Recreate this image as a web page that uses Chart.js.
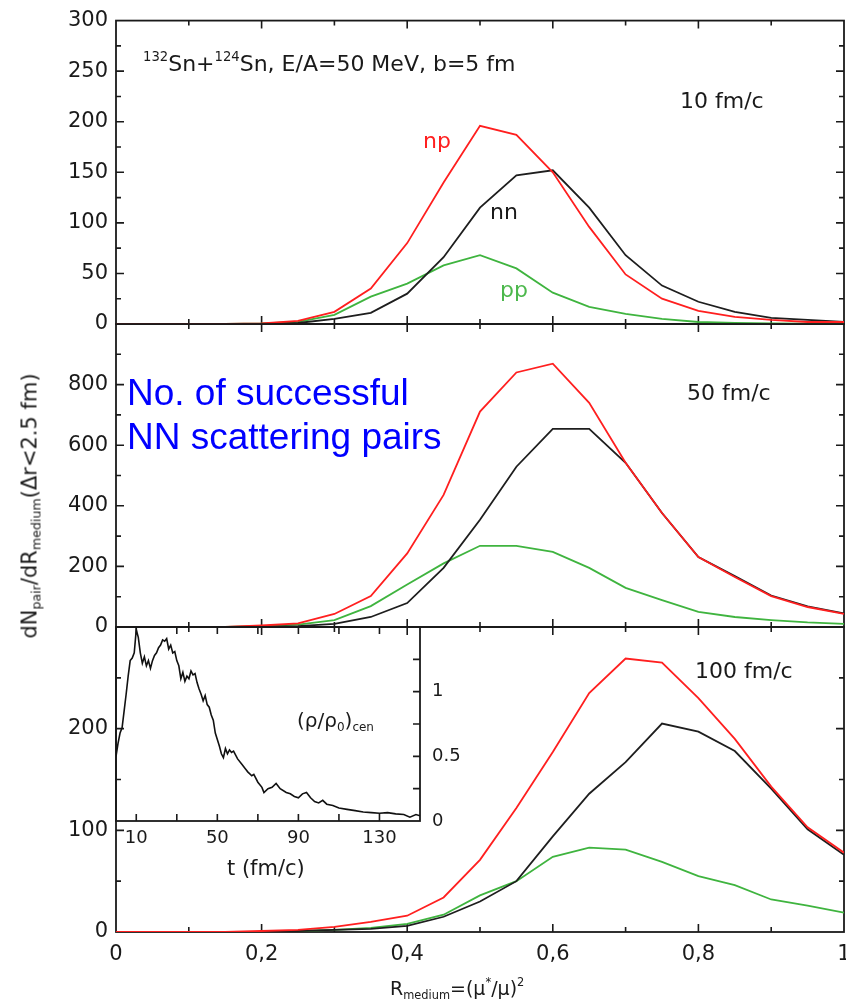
<!DOCTYPE html>
<html>
<head>
<meta charset="utf-8">
<script src="https://cdn.jsdelivr.net/npm/chart.js@4.4.0/dist/chart.umd.min.js"></script>
<style>
  html, body { margin: 0; padding: 0; background: #fff; overflow: hidden; }
  #wrap { position: relative; width: 846px; height: 999px; overflow: hidden; font-family: 'DejaVu Sans', sans-serif; color: #1a1a1a; }
  canvas { position: absolute; }
  .lbl { position: absolute; white-space: nowrap; line-height: 1; }
  .lbl sub, .lbl sup { font-size: 60%; line-height: 0; position: relative; vertical-align: baseline; }
  .lbl sup { top: -0.75em; }
  .lbl sub { top: 0.35em; }
</style>
</head>
<body>
<div id="wrap">
  <canvas id="c10" width="880" height="345" style="left:0;top:0"></canvas>
  <canvas id="c50" width="880" height="350" style="left:0;top:300px"></canvas>
  <canvas id="c100" width="880" height="399" style="left:0;top:600px"></canvas>
  <canvas id="cin" width="400" height="300" style="left:100px;top:600px"></canvas>
</div>
<script>
// R_medium grid shared by all three panels
const rValues = [0, 0.05, 0.1, 0.15, 0.2, 0.25, 0.3, 0.35, 0.4, 0.45, 0.5,
                 0.55, 0.6, 0.65, 0.7, 0.75, 0.8, 0.85, 0.9, 0.95, 1];

// 10 fm/c
const np10 = [0, 0, 0, 0, 0.5, 3, 12, 35, 80, 140, 196, 187, 150, 96, 49, 25, 13, 7, 4, 2, 2];
const nn10 = [0, 0, 0, 0, 0, 1, 5, 11, 30, 66, 115, 147, 152, 115, 68, 38, 22, 12, 6, 4, 2];
const pp10 = [0, 0, 0, 0, 0.5, 2, 9, 27, 40, 58, 68, 55, 31, 17, 10, 5, 2, 1, 0.5, 0.3, 0.2];

// 50 fm/c
const np50 = [0, 0, 0, 0, 5, 12, 43, 102, 243, 436, 711, 840, 869, 740, 542, 376, 231, 165, 102, 66, 43];
const nn50 = [0, 0, 0, 0, 1, 3, 10, 33, 79, 195, 354, 529, 654, 654, 542, 376, 231, 168, 104, 68, 45];
const pp50 = [0, 0, 0, 0, 3, 8, 23, 69, 140, 210, 268, 268, 248, 195, 129, 89, 50, 33, 23, 15, 10];

// 100 fm/c
const np100 = [0, 0, 0, 0, 1, 2, 5, 10, 16, 34, 71, 122, 177, 235, 269, 265, 230, 190, 143, 103, 78];
const nn100 = [0, 0, 0, 0, 0, 1, 2, 3, 6, 15, 30, 50, 94, 136, 167, 205, 197, 178, 141, 101, 76];
const pp100 = [0, 0, 0, 0, 0, 1, 2, 4, 8, 17, 36, 50, 74, 83, 81, 69, 55, 46, 32, 26, 19];

// tick labels
const xTicks = [0, 0.2, 0.4, 0.6, 0.8, 1];
const xTickLabels = ['0', '0,2', '0,4', '0,6', '0,8', '1'];
const yTicks10 = [0, 50, 100, 150, 200, 250, 300];
const yLabels10 = ['0', '50', '100', '150', '200', '250', '300'];
const yTicks50 = [0, 200, 400, 600, 800, 1000];
const yLabels50 = ['0', '200', '400', '600', '800', ''];
const yTicks100 = [0, 100, 200, 300];
const yLabels100 = ['0', '100', '200', ''];

// inset: central density vs time
const insetT = [0, 1, 2, 3, 4, 5, 6, 7, 8, 9, 10, 11, 12, 13, 14, 15, 16, 17, 18, 19,
  20, 21, 22, 23, 24, 25, 26, 27, 28, 29, 30, 31, 32, 33, 34, 35, 36, 37, 38, 39,
  40, 41, 42, 43, 44, 45, 46, 47, 48, 49, 50, 51, 52, 53, 54, 55, 56, 57, 58, 60,
  62, 64, 65, 67, 68, 70, 72, 73, 75, 77, 79, 81, 84, 86, 88, 90, 92, 94, 96, 98,
  100, 102, 104, 107, 110, 114, 118, 122, 126, 130, 134, 138, 142, 145, 148, 150];
const insetRho = [0.50, 0.60, 0.68, 0.72, 0.85, 0.98, 1.12, 1.24, 1.26, 1.30,
  1.48, 1.42, 1.30, 1.22, 1.27, 1.20, 1.24, 1.18, 1.24, 1.28,
  1.30, 1.34, 1.36, 1.40, 1.39, 1.41, 1.33, 1.36, 1.30, 1.31,
  1.24, 1.20, 1.10, 1.15, 1.08, 1.12, 1.10, 1.16, 1.13, 1.14,
  1.07, 1.02, 0.98, 0.93, 0.97, 0.90, 0.88, 0.82, 0.78, 0.68,
  0.63, 0.58, 0.52, 0.49, 0.56, 0.52, 0.55, 0.53, 0.54, 0.48,
  0.44, 0.40, 0.38, 0.35, 0.36, 0.30, 0.26, 0.22, 0.25, 0.26,
  0.29, 0.25, 0.22, 0.21, 0.19, 0.18, 0.21, 0.22, 0.18, 0.15,
  0.14, 0.16, 0.13, 0.12, 0.10, 0.09, 0.08, 0.07, 0.065, 0.06,
  0.065, 0.055, 0.05, 0.03, 0.05, 0.04];
const insetXTicks = [10, 50, 90, 130];
const insetYTicks = [0, 0.5, 1, 1.5];
const insetYLabels = ['0', '0.5', '1', ''];

const RED = '#ff1f1f', BLACK = '#1e1e1e', GREEN = '#3fb43f';
Chart.defaults.font.family = "'DejaVu Sans', sans-serif";
Chart.defaults.color = '#1a1a1a';

// frame + inward ticks (majors from the scale, minors halfway between),
// drawn under the curves so the zero lines sit on the frame like the original
const frameTicks = {
  id: 'frameTicks',
  beforeDatasetsDraw(chart, args, o) {
    const {ctx, chartArea: a} = chart;
    const xs = chart.scales.x, ys = chart.scales.y;
    const withMinors = s => {
      const v = s.ticks.map(t => t.value);
      const out = v.map(x => [x, o.major]);
      for (let i = 0; i < v.length - 1; i++) out.push([(v[i] + v[i + 1]) / 2, o.minor]);
      if (o.tailMinor) out.push([v[v.length - 1] + (v[1] - v[0]) / 2, o.minor]);
      return out;
    };
    ctx.save();
    ctx.strokeStyle = '#1a1a1a';
    ctx.lineWidth = 1.6;
    ctx.beginPath();
    withMinors(xs).forEach(([v, len]) => {
      const p = xs.getPixelForValue(v);
      if (p <= a.left + 1 || p >= a.right - 1) return;
      ctx.moveTo(p, a.bottom); ctx.lineTo(p, a.bottom - len);
      ctx.moveTo(p, a.top); ctx.lineTo(p, a.top + len);
    });
    withMinors(ys).forEach(([v, len]) => {
      const p = ys.getPixelForValue(v);
      if (p <= a.top + 1 || p >= a.bottom - 1) return;
      if (o.left) { ctx.moveTo(a.left, p); ctx.lineTo(a.left + len, p); }
      if (o.right) { ctx.moveTo(a.right, p); ctx.lineTo(a.right - len, p); }
    });
    ctx.stroke();
    ctx.lineWidth = 1.8;
    ctx.strokeRect(a.left, a.top, a.right - a.left, a.bottom - a.top);
    ctx.restore();
  }
};

function panel(id, np, nn, pp, yMax, yTicks, yLabels, pad, showX) {
  const pts = arr => rValues.map((r, i) => ({x: r, y: arr[i]}));
  const line = (arr, c) => ({data: pts(arr), borderColor: c, borderWidth: 1.8, pointRadius: 0, tension: 0});
  return new Chart(document.getElementById(id), {
    type: 'line',
    data: {datasets: [line(np, RED), line(nn, BLACK), line(pp, GREEN)]},
    options: {
      responsive: false, animation: false, devicePixelRatio: 1,
      layout: {padding: pad},
      plugins: {legend: {display: false}, tooltip: {enabled: false},
                frameTicks: {major: 8, minor: 5, left: true, right: true}},
      scales: {
        x: {
          type: 'linear', min: 0, max: 1, display: showX,
          afterBuildTicks: s => { s.ticks = xTicks.map(v => ({value: v})); },
          afterFit: s => { s.height = showX ? 40 : 0; },
          grid: {display: false, drawTicks: false}, border: {display: false},
          ticks: {font: {size: 21}, padding: 10, maxRotation: 0, autoSkip: false,
                  callback: (v, i) => xTickLabels[i]}
        },
        y: {
          min: 0, max: yMax,
          afterBuildTicks: s => { s.ticks = yTicks.map(v => ({value: v})); },
          afterFit: s => { s.width = 116; },
          grid: {display: false, drawTicks: false}, border: {display: false},
          ticks: {font: {size: 21}, padding: 8, callback: (v, i) => yLabels[i]}
        }
      }
    },
    plugins: [frameTicks]
  });
}

panel('c10', np10, nn10, pp10, 300, yTicks10, yLabels10, {left: 0, top: 19, right: 36, bottom: 21}, false);
panel('c50', np50, nn50, pp50, 1000, yTicks50, yLabels50, {left: 0, top: 24, right: 36, bottom: 23}, false);
panel('c100', np100, nn100, pp100, 300, yTicks100, yLabels100, {left: 0, top: 27, right: 36, bottom: 27}, true);

// inset
new Chart(document.getElementById('cin'), {
  type: 'line',
  data: {datasets: [{
    data: insetT.map((t, i) => ({x: t, y: insetRho[i]})),
    borderColor: '#111', borderWidth: 1.6, pointRadius: 0, tension: 0
  }]},
  options: {
    responsive: false, animation: false, devicePixelRatio: 1,
    layout: {padding: {left: 16, top: 27, right: 0, bottom: 0}},
    plugins: {legend: {display: false}, tooltip: {enabled: false},
              frameTicks: {major: 7, minor: 7, left: false, right: true, tailMinor: true}},
    scales: {
      x: {
        type: 'linear', min: 0, max: 150,
        afterBuildTicks: s => { s.ticks = insetXTicks.map(v => ({value: v})); },
        afterFit: s => { s.height = 79; },
        grid: {display: false, drawTicks: false}, border: {display: false},
        ticks: {font: {size: 18}, padding: 7, maxRotation: 0, autoSkip: false}
      },
      y: {
        position: 'right', min: 0, max: 1.5,
        afterBuildTicks: s => { s.ticks = insetYTicks.map(v => ({value: v})); },
        afterFit: s => { s.width = 80; },
        grid: {display: false, drawTicks: false}, border: {display: false},
        ticks: {font: {size: 18}, padding: 12, callback: (v, i) => insetYLabels[i]}
      }
    }
  },
  plugins: [frameTicks]
});

// text annotations (left, baseline, size)
const wrap = document.getElementById('wrap');
function addLabel(html, x, base, size, color, family) {
  const d = document.createElement('div');
  d.className = 'lbl';
  d.innerHTML = html;
  d.style.left = x + 'px';
  d.style.top = (base - 0.846 * size) + 'px';
  d.style.fontSize = size + 'px';
  if (color) d.style.color = color;
  if (family) d.style.fontFamily = family;
  wrap.appendChild(d);
  return d;
}
addLabel('<sup>132</sup>Sn+<sup>124</sup>Sn, E/A=50 MeV, b=5 fm', 143, 72, 22);
addLabel('10 fm/c', 680, 109, 22);
addLabel('50 fm/c', 687, 401, 22);
addLabel('100 fm/c', 695, 679, 22);
addLabel('np', 423, 149, 22, RED);
addLabel('nn', 490, 220, 22);
addLabel('pp', 500, 298, 22, '#4cb84c');
addLabel('No. of successful', 127, 405, 37, '#0000ff', "'Liberation Sans', Arial, sans-serif");
addLabel('NN scattering pairs', 127, 449, 37, '#0000ff', "'Liberation Sans', Arial, sans-serif");
addLabel('(ρ/ρ<sub>0</sub>)<sub>cen</sub>', 297, 727, 20);
addLabel('t (fm/c)', 227, 876, 21);
addLabel('R<sub>medium</sub>=(μ<sup>*</sup>/μ)<sup>2</sup>', 390, 995, 19);

const yt = document.createElement('div');
yt.className = 'lbl';
yt.innerHTML = 'dN<sub>pair</sub>/dR<sub>medium</sub>(Δr&lt;2.5 fm)';
yt.style.fontSize = '21px';
yt.style.left = '30px';
yt.style.top = '506px';
yt.style.transform = 'translate(-50%, -50%) rotate(-90deg)';
wrap.appendChild(yt);
</script>
</body>
</html>
